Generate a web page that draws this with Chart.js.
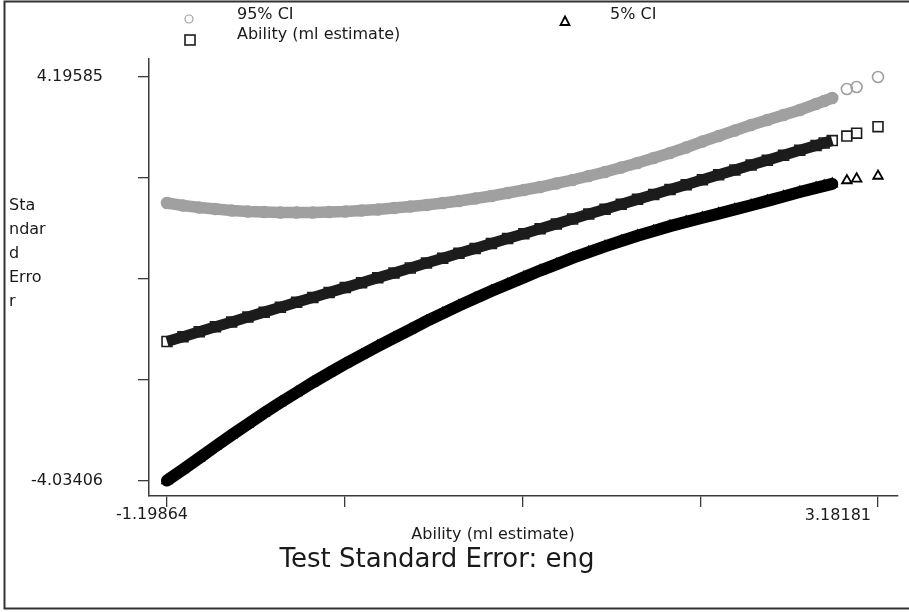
<!DOCTYPE html>
<html>
<head>
<meta charset="utf-8">
<script src="https://cdn.jsdelivr.net/npm/chart.js@4/dist/chart.umd.min.js"></script>
<style>
  html, body { margin: 0; padding: 0; background: #fff; overflow: hidden; }
  #wrap { width: 909px; height: 612px; }
</style>
</head>
<body>
<div id="wrap"><canvas id="c" width="909" height="612"></canvas></div>
<script>
// ability estimates (x), also plotted against themselves as the square series
const ABILITY = [-1.19864, -1.1, -1.0, -0.9, -0.8, -0.7, -0.6, -0.5, -0.4, -0.3, -0.2, -0.1,
  0.0, 0.1, 0.2, 0.3, 0.4, 0.5, 0.6, 0.7, 0.8, 0.9, 1.0, 1.1, 1.2, 1.3, 1.4, 1.5, 1.6, 1.7,
  1.8, 1.9, 2.0, 2.1, 2.2, 2.3, 2.4, 2.5, 2.6, 2.7, 2.8, 2.85, 2.9, 2.99, 3.05, 3.18181]

const UPPER_95 = [1.626, 1.575, 1.534, 1.504, 1.473, 1.453, 1.442, 1.432, 1.432, 1.432, 1.442, 1.453,
  1.473, 1.494, 1.524, 1.555, 1.585, 1.626, 1.667, 1.718, 1.769, 1.830, 1.891, 1.952, 2.024, 2.095,
  2.177, 2.258, 2.350, 2.442, 2.544, 2.646, 2.758, 2.880, 2.993, 3.105, 3.217, 3.319, 3.421, 3.523,
  3.645, 3.706, 3.768, 3.951, 3.992, 4.19585]

const LOWER_5 = [-4.03406, -3.810, -3.575, -3.340, -3.106, -2.882, -2.657, -2.443, -2.239, -2.035,
  -1.841, -1.653, -1.473, -1.294, -1.124, -0.955, -0.785, -0.626, -0.467, -0.318, -0.169, -0.030,
  0.109, 0.248, 0.376, 0.505, 0.623, 0.742, 0.850, 0.958, 1.056, 1.154, 1.240, 1.325, 1.410, 1.495,
  1.580, 1.670, 1.760, 1.850, 1.935, 1.975, 2.015, 2.085, 2.120, 2.177]

const X_TICKS = [-1.19864, 3.18181]
const Y_TICKS = [-4.03406, 4.19585]
const X_TICK_LABELS = ['-1.19864', '3.18181']
const Y_TICK_LABELS = ['-4.03406', '4.19585']
const Y_TITLE_LINES = ['Sta', 'ndar', 'd', 'Erro', 'r']
const X_TITLE = 'Ability (ml estimate)'
const CHART_TITLE = 'Test Standard Error: eng'

const FONT = '"DejaVu Sans", sans-serif'
const INK = '#1a1a1a'
const AXIS = '#3a3a3a'
const DENSE_END = 2.92 // past this the estimates are sparse: markers only, no band

const pts = ys => ABILITY.map((x, i) => ({ x, y: ys[i] }))
const band = color => ({ borderColor: ctx => ctx.p1.parsed.x > DENSE_END ? 'rgba(0,0,0,0)' : color })

function fiveTicks(lo, hi) {
  return s => { s.ticks = [0, 1, 2, 3, 4].map(i => ({ value: lo + (hi - lo) * i / 4 })) }
}

const decor = {
  id: 'decor',
  afterDraw(chart) {
    const ctx = chart.ctx
    const xs = chart.scales.x
    const ds = chart.data.datasets
    ctx.save()

    // frame
    ctx.strokeStyle = '#333'
    ctx.lineWidth = 2
    ctx.beginPath()
    ctx.moveTo(912, 1.5); ctx.lineTo(4.5, 1.5); ctx.lineTo(4.5, 608.5); ctx.lineTo(912, 608.5)
    ctx.stroke()

    ctx.fillStyle = INK
    ctx.textBaseline = 'middle'

    // legend
    ctx.font = '16px ' + FONT
    ctx.textAlign = 'left'
    ctx.fillText(ds[0].label, 237, 15)
    ctx.fillText(ds[1].label, 237, 35)
    ctx.fillText(ds[2].label, 610, 15)

    ctx.lineWidth = 1.2
    ctx.strokeStyle = ds[0].pointBorderColor
    ctx.beginPath(); ctx.arc(189, 19, 4, 0, Math.PI * 2); ctx.stroke()
    ctx.lineWidth = 1.6
    ctx.strokeStyle = ds[1].pointBorderColor
    ctx.strokeRect(185, 35, 10, 10)
    ctx.lineWidth = 1.8
    ctx.strokeStyle = ds[2].pointBorderColor
    ctx.beginPath(); ctx.moveTo(565, 16.5); ctx.lineTo(569.5, 25); ctx.lineTo(560.5, 25); ctx.closePath(); ctx.stroke()

    // x tick labels (only the two end ticks carry text)
    ctx.font = '16px ' + FONT
    ctx.textAlign = 'right'
    ctx.fillText(X_TICK_LABELS[0], xs.getPixelForValue(X_TICKS[0]) + 21, 515)
    ctx.fillText(X_TICK_LABELS[1], xs.getPixelForValue(X_TICKS[1]) - 7, 516)

    // axis titles and chart title
    ctx.textAlign = 'center'
    ctx.fillText(X_TITLE, 493, 535)
    ctx.font = '26px ' + FONT
    ctx.fillText(CHART_TITLE, 437, 560)

    ctx.font = '16px ' + FONT
    ctx.textAlign = 'left'
    Y_TITLE_LINES.forEach((t, i) => ctx.fillText(t, 9, 206 + i * 24))
    ctx.restore()
  }
}

new Chart(document.getElementById('c'), {
  type: 'scatter',
  data: {
    datasets: [
      { label: '95% CI', data: pts(UPPER_95), pointStyle: 'circle', pointRadius: 5.5, pointBorderWidth: 1.6,
        pointBorderColor: '#a0a0a0', pointBackgroundColor: 'rgba(0,0,0,0)', borderColor: '#a0a0a0',
        showLine: true, borderWidth: 11.5, borderCapStyle: 'round', segment: band('#a0a0a0') },
      { label: 'Ability (ml estimate)', data: pts(ABILITY), pointStyle: 'rect', pointRadius: 7, pointBorderWidth: 1.6,
        pointBorderColor: '#1c1c1c', pointBackgroundColor: 'rgba(0,0,0,0)', borderColor: '#1c1c1c',
        showLine: true, borderWidth: 11, borderCapStyle: 'butt', segment: band('#1c1c1c') },
      { label: '5% CI', data: pts(LOWER_5), pointStyle: 'triangle', pointRadius: 5.5, pointBorderWidth: 1.8,
        pointBorderColor: '#000', pointBackgroundColor: 'rgba(0,0,0,0)', borderColor: '#000',
        showLine: true, borderWidth: 12, borderCapStyle: 'round', segment: band('#000') }
    ]
  },
  options: {
    responsive: false,
    animation: false,
    devicePixelRatio: 1,
    layout: { padding: { top: 59, right: 11, left: 0, bottom: 0 } },
    plugins: { legend: { display: false }, tooltip: { enabled: false } },
    scales: {
      x: {
        type: 'linear', min: -1.3095, max: 3.3050,
        afterBuildTicks: fiveTicks(X_TICKS[0], X_TICKS[1]),
        afterFit: s => { s.height = 116 },
        border: { display: true, color: AXIS, width: 1.5 },
        grid: { drawOnChartArea: false, drawTicks: true, tickLength: 11, color: AXIS, lineWidth: 1.3 },
        ticks: { display: false }
      },
      y: {
        type: 'linear', min: -4.3502, max: 4.5630,
        afterBuildTicks: fiveTicks(Y_TICKS[0], Y_TICKS[1]),
        afterFit: s => { s.width = 149 },
        border: { display: true, color: AXIS, width: 1.5 },
        grid: { drawOnChartArea: false, drawTicks: true, tickLength: 11, color: AXIS, lineWidth: 1.3 },
        ticks: {
          padding: 35, color: INK, font: { family: 'DejaVu Sans', size: 16 },
          callback: (v, i, all) => i === 0 ? Y_TICK_LABELS[0] : i === all.length - 1 ? Y_TICK_LABELS[1] : ''
        }
      }
    }
  },
  plugins: [decor]
})
</script>
</body>
</html>
